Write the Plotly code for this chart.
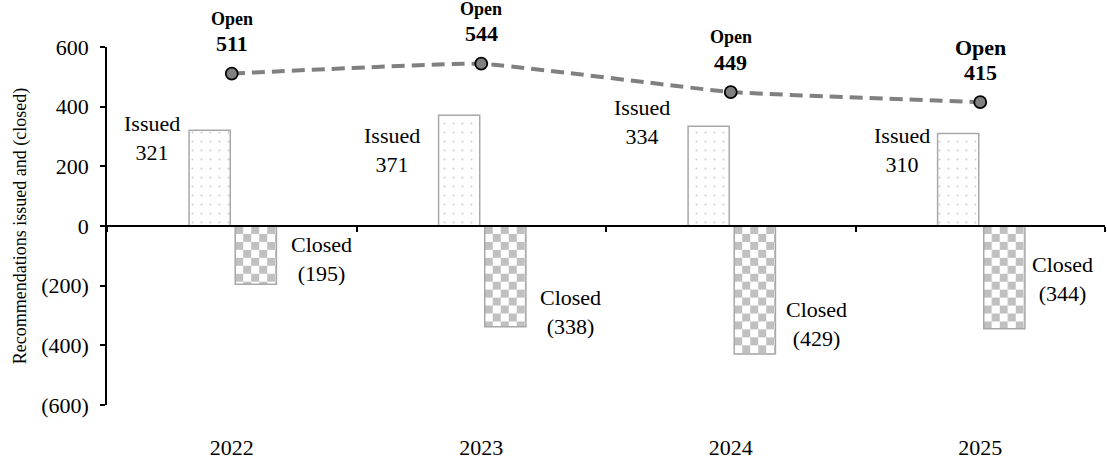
import base64
import plotly.graph_objects as go

# Data
years = ["2022", "2023", "2024", "2025"]
issued = [321, 371, 334, 310]
closed = [-195, -338, -429, -344]
open_recs = [511, 544, 449, 415]

y_tickvals = [-600, -400, -200, 0, 200, 400, 600]
y_ticktext = ["(600)", "(400)", "(200)", "0", "200", "400", "600"]

# Layout geometry
W, H = 1107, 462
M = dict(l=107, r=2, t=47, b=55)
Y_RANGE = [-600, 600]
X_RANGE = [-0.5, len(years) - 0.5]
px_per_x = (W - M["l"] - M["r"]) / (X_RANGE[1] - X_RANGE[0])
px_per_y = (H - M["t"] - M["b"]) / (Y_RANGE[1] - Y_RANGE[0])

BAR_W = 0.165
ISSUED_OFF = -0.171
CLOSED_OFF = 0.014
FONT = "Liberation Serif"
BAR_EDGE = "#a8a8a8"

# Label offsets in pixels (x, y) relative to bar end at category centre
issued_lbl_shift = [(-80, -8), (-89, -35), (-89, 4), (-78, -16)]
closed_lbl_shift = [(90, 25), (89, 15), (86, 30), (82, 50)]
open_word_size = [18, 18, 18, 22]
open_num_size = [22, 22, 22, 22]

xs = list(range(len(years)))

fig = go.Figure()

# Issued bars: white with a light dot pattern
fig.add_trace(go.Bar(
    x=xs, y=issued, width=BAR_W, offset=ISSUED_OFF,
    marker=dict(color="white", line=dict(color=BAR_EDGE, width=1.5),
                pattern=dict(shape=".", fgcolor="#9a9a9a", bgcolor="white",
                             size=9, solidity=0.04)),
    showlegend=False, hoverinfo="skip",
))

# Closed bars: outline only; checkerboard fill is laid underneath as images
fig.add_trace(go.Bar(
    x=xs, y=closed, width=BAR_W, offset=CLOSED_OFF,
    marker=dict(color="rgba(0,0,0,0)", line=dict(color=BAR_EDGE, width=1.5)),
    showlegend=False, hoverinfo="skip",
))


def checker_uri(w_px, h_px, cell=8, col="#c0c0c0"):
    svg = (
        f'<svg xmlns="http://www.w3.org/2000/svg" width="{w_px:.1f}" height="{h_px:.1f}" '
        f'viewBox="0 0 {w_px:.2f} {h_px:.2f}" preserveAspectRatio="none">'
        f'<defs><pattern id="c" width="{2*cell}" height="{2*cell}" patternUnits="userSpaceOnUse">'
        f'<rect width="{2*cell}" height="{2*cell}" fill="white"/>'
        f'<rect width="{cell}" height="{cell}" fill="{col}"/>'
        f'<rect x="{cell}" y="{cell}" width="{cell}" height="{cell}" fill="{col}"/>'
        f'</pattern></defs><rect width="100%" height="100%" fill="url(#c)"/></svg>'
    )
    return "data:image/svg+xml;base64," + base64.b64encode(svg.encode()).decode()


images = []
for i, v in zip(xs, closed):
    images.append(dict(
        source=checker_uri(BAR_W * px_per_x, abs(v) * px_per_y),
        xref="x", yref="y", x=i + CLOSED_OFF, y=0,
        sizex=BAR_W, sizey=abs(v), xanchor="left", yanchor="top",
        sizing="stretch", layer="below",
    ))

# Open recommendations line
fig.add_trace(go.Scatter(
    x=xs, y=open_recs, mode="lines+markers",
    line=dict(color="#808080", width=4, dash="13px,7px", shape="spline", smoothing=0.3),
    marker=dict(size=12, color="#808080", line=dict(color="black", width=1.8)),
    showlegend=False, hoverinfo="skip",
))

annotations = []
for i in xs:
    dx, dy = issued_lbl_shift[i]
    annotations.append(dict(
        x=i, y=issued[i], xref="x", yref="y", text=f"Issued<br>{issued[i]}",
        showarrow=False, xshift=dx, yshift=dy,
        font=dict(family=FONT, size=22, color="black"),
    ))
    dx, dy = closed_lbl_shift[i]
    annotations.append(dict(
        x=i, y=closed[i], xref="x", yref="y", text=f"Closed<br>({abs(closed[i])})",
        showarrow=False, xshift=dx, yshift=dy,
        font=dict(family=FONT, size=22, color="black"),
    ))
    annotations.append(dict(
        x=i, y=open_recs[i], xref="x", yref="y", text=f"<b>{open_recs[i]}</b>",
        showarrow=False, yshift=30,
        font=dict(family=FONT, size=open_num_size[i], color="black"),
    ))
    annotations.append(dict(
        x=i, y=open_recs[i], xref="x", yref="y", text="<b>Open</b>",
        showarrow=False, yshift=55,
        font=dict(family=FONT, size=open_word_size[i], color="black"),
    ))

fig.update_layout(
    width=W, height=H, margin=M,
    paper_bgcolor="white", plot_bgcolor="rgba(0,0,0,0)",
    font=dict(family=FONT, color="black"),
    barmode="overlay",
    images=images,
    annotations=annotations,
    xaxis=dict(
        range=X_RANGE, tickvals=xs, ticktext=years, showline=False,
        showgrid=False, zeroline=False, ticks="", ticklabelstandoff=27,
        tickfont=dict(family=FONT, size=22, color="black"),
    ),
    xaxis2=dict(
        overlaying="x", matches="x", anchor="free", position=0.5, side="bottom",
        range=X_RANGE, tickvals=[x + 0.5 for x in [-1] + xs], showticklabels=False,
        showline=True, linecolor="black", linewidth=1.5,
        ticks="outside", ticklen=5, tickwidth=1.5, tickcolor="black",
        showgrid=False, zeroline=False,
    ),
    yaxis=dict(
        range=Y_RANGE, tickvals=y_tickvals, ticktext=y_ticktext,
        showline=True, linecolor="black", linewidth=1.5,
        ticks="outside", ticklen=5, tickwidth=1.5, tickcolor="black",
        showgrid=False, zeroline=False, ticklabelstandoff=7,
        tickfont=dict(family=FONT, size=22, color="black"),
        title=dict(text="Recommendations issued and (closed)", standoff=10,
                   font=dict(family=FONT, size=18, color="black")),
    ),
)

# Dummy trace so the overlay x-axis (zero line with boundary ticks) is drawn
fig.add_trace(go.Scatter(x=[None], y=[None], xaxis="x2", showlegend=False, hoverinfo="skip"))

fig.write_html("out.html")
